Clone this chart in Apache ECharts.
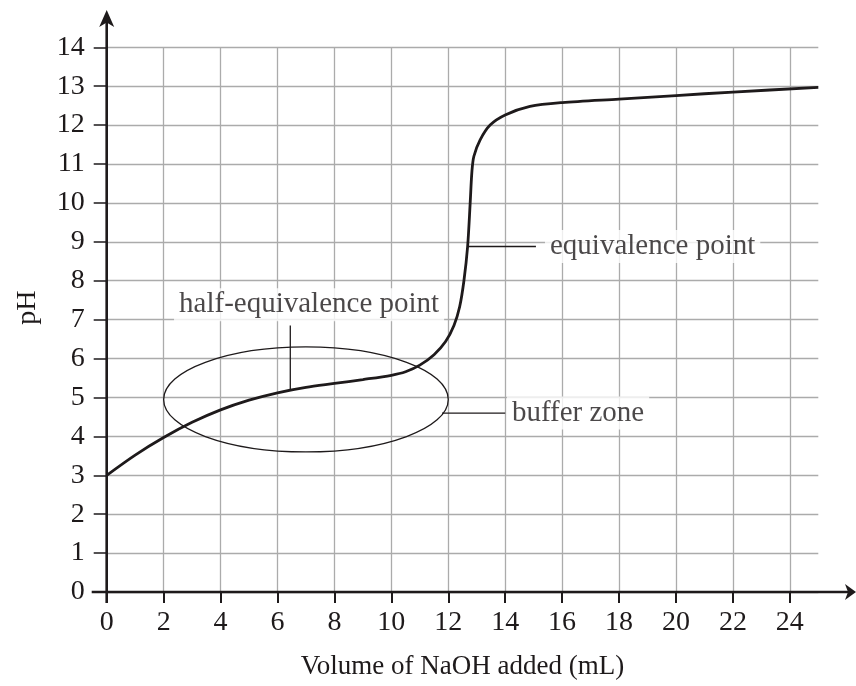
<!DOCTYPE html>
<html><head><meta charset="utf-8">
<script src="https://cdn.jsdelivr.net/npm/echarts@6/dist/echarts.min.js"></script>
<style>html,body{margin:0;padding:0;background:#fff}#c{width:856px;height:686px}</style>
</head><body><div id="c"></div>
<script>
// Data
const volume = [0, 1, 2, 3, 4, 5, 6, 7, 8, 9, 10, 10.5, 11, 11.5, 11.9, 12.2, 12.4, 12.55, 12.68, 12.77, 12.83, 12.9, 13.12, 13.47, 14, 14.87, 16, 18, 20, 22, 25];
const pH     = [3.0, 3.52, 3.97, 4.36, 4.68, 4.93, 5.12, 5.26, 5.36, 5.46, 5.57, 5.66, 5.83, 6.1, 6.43, 6.85, 7.33, 8.0, 8.88, 10.0, 10.8, 11.2, 11.62, 12.0, 12.26, 12.48, 12.58, 12.67, 12.76, 12.85, 12.97];
const xTickLabels = [0, 2, 4, 6, 8, 10, 12, 14, 16, 18, 20, 22, 24];
const yTickLabels = [0, 1, 2, 3, 4, 5, 6, 7, 8, 9, 10, 11, 12, 13, 14];
// Annotations (data units)
const bufferEllipse = [7.0, 4.95, 5.0, 1.35]; // center x, center y, radius x, radius y
const halfEqLeader = [[6.45, 5.19], [6.45, 6.85]];
const eqLeader = [[12.68, 8.88], [15.08, 8.88]];
const bufferLeader = [[11.78, 4.6], [14.0, 4.6]];
const labels = [
  {name: 'half-equivalence point', value: [7.11, 7.38]},
  {name: 'equivalence point', value: [19.18, 8.88]},
  {name: 'buffer zone', value: [16.56, 4.6]}
];

const FONT = 'Liberation Serif';
const INK = '#1e1a1b';
const GRID = '#ababab';

const chart = echarts.init(document.getElementById('c'));
const leaderStyle = {type: 'line', symbol: 'none', silent: true, lineStyle: {color: INK, width: 1.3}, z: 3};
chart.setOption({
  animation: false,
  backgroundColor: '#fff',
  grid: {left: 106.7, right: 856 - 818.3, top: 47.3, bottom: 686 - 592, containLabel: false, outerBoundsMode: 'none'},
  xAxis: {
    type: 'value', min: 0, max: 25, interval: 1,
    name: 'Volume of NaOH added (mL)', nameLocation: 'middle', nameGap: 61,
    nameTextStyle: {fontFamily: FONT, fontSize: 27, color: INK},
    axisLine: {show: false},
    axisTick: {show: true, length: 11, customValues: xTickLabels, lineStyle: {color: INK, width: 2}},
    axisLabel: {customValues: xTickLabels, fontFamily: FONT, fontSize: 28, color: INK, margin: 17},
    splitLine: {show: true, lineStyle: {color: GRID, width: 1.3}}
  },
  yAxis: {
    type: 'value', min: 0, max: 14, interval: 1,
    name: 'pH', nameLocation: 'middle', nameGap: 65, nameRotate: 90,
    nameTextStyle: {fontFamily: FONT, fontSize: 28, color: INK, padding: [0, 0, 0, 24]},
    axisLine: {show: false},
    axisTick: {show: true, length: 13, lineStyle: {color: INK, width: 1.5}},
    axisLabel: {fontFamily: FONT, fontSize: 28, color: INK, margin: 22},
    splitLine: {show: true, lineStyle: {color: GRID, width: 1.3}}
  },
  series: [
    {
      type: 'custom', silent: true, z: 3,
      data: [bufferEllipse],
      renderItem: function (params, api) {
        const c = api.coord([api.value(0), api.value(1)]);
        const s = api.size([api.value(2), api.value(3)]);
        return {type: 'ellipse', shape: {cx: c[0], cy: c[1], rx: s[0], ry: s[1]},
          style: {fill: null, stroke: INK, lineWidth: 1.3}};
      }
    },
    Object.assign({data: halfEqLeader}, leaderStyle),
    Object.assign({data: eqLeader}, leaderStyle),
    Object.assign({data: bufferLeader}, leaderStyle),
    {
      type: 'line', data: volume.map((v, i) => [v, pH[i]]),
      smooth: 0.3, symbol: 'none', z: 4,
      lineStyle: {color: INK, width: 2.8}
    },
    {
      type: 'scatter', data: labels, symbolSize: 0, z: 5, silent: true,
      label: {show: true, position: 'inside', formatter: '{b}', fontFamily: FONT, fontSize: 29, color: INK,
        backgroundColor: '#fff', padding: [2, 5]}
    }
  ]
});

// axis lines with arrows (extend beyond plot like the reference)
const o = chart.convertToPixel({gridIndex: 0}, [0, 0]);
chart.setOption({
  graphic: [
    {type: 'line', z: 10, shape: {x1: o[0] - 15, y1: o[1], x2: 848, y2: o[1]}, style: {stroke: INK, lineWidth: 2.6}},
    {type: 'polygon', z: 10, shape: {points: [[856, o[1]], [845, o[1] - 8], [848, o[1]], [845, o[1] + 8]]}, style: {fill: INK}},
    {type: 'line', z: 10, shape: {x1: o[0], y1: o[1] + 11, x2: o[0], y2: 18}, style: {stroke: INK, lineWidth: 2.6}},
    {type: 'polygon', z: 10, shape: {points: [[o[0], 10], [o[0] - 7.5, 27], [o[0], 22.5], [o[0] + 7.5, 27]]}, style: {fill: INK}}
  ]
});
</script></body></html>
